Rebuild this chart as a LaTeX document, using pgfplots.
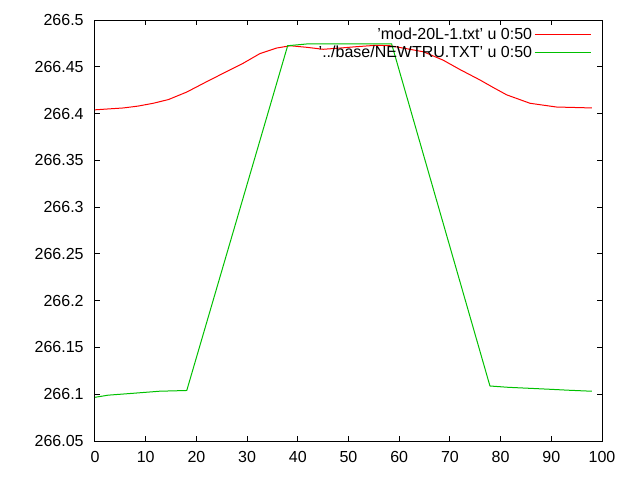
\documentclass[border=0pt]{standalone}
\usepackage{pgfplots}
\pgfplotsset{compat=1.18}
\usepackage{fontspec}
\setmainfont{Liberation Sans}
\definecolor{gred}{RGB}{255,0,0}
\definecolor{ggreen}{RGB}{0,192,0}
\begin{document}
\begin{tikzpicture}
\begin{axis}[
  scale only axis,
  width=380.25pt, height=315.75pt,
  at={(0,0)}, anchor=south west,
  xmin=0, xmax=100, ymin=266.05, ymax=266.5,
  xtick={0,10,...,100},
  ytick={266.05,266.1,266.15,266.2,266.25,266.3,266.35,266.4,266.45,266.5},
  yticklabels={266.05,266.1,266.15,266.2,266.25,266.3,266.35,266.4,266.45,266.5},
  tick align=inside,
  major tick length=3.5pt,
  axis line style={line width=0.75pt},
  every tick/.style={black, line width=0.75pt},
  tick label style={font=\fontsize{12}{13.5}\selectfont},
  yticklabel style={xshift=-5pt},
  xticklabel style={yshift=-4pt},
  /pgf/number format/assume math mode=true,
  legend cell align=right,
  legend plot pos=right,
  legend style={draw=none, fill=none, at={(0.983,0.99)}, anchor=north east,
    font=\fontsize{12}{13.5}\selectfont, row sep=0pt, inner sep=1pt,
    nodes={inner sep=1.5pt}},
  legend image code/.code={\path (0pt,0pt) -- (5pt,0pt); \draw[#1] (5pt,0pt) -- (42.5pt,0pt);},
]
\addplot[gred, line width=0.75pt] coordinates {
(0,266.404) (5.6,266.406) (8.5,266.408) (11.5,266.411) (14.5,266.415) (18.1,266.423)
(22,266.434) (26,266.445) (29.3,266.454) (32.5,266.464) (35.8,266.470) (38.5,266.4725)
(41.8,266.4708) (45,266.4687) (48.3,266.470) (51.6,266.4715) (55.5,266.473) (58.2,266.4725)
(62.1,266.4687) (64.8,266.466) (68.7,266.457) (72,266.447) (75.9,266.436) (78.5,266.428)
(81.2,266.420) (85.8,266.411) (91,266.407) (98,266.406)
};
\addlegendentry{'mod-20L-1.txt' u 0:50}
\addplot[ggreen, line width=0.75pt] coordinates {
(0,266.0967) (2.6,266.099) (7.5,266.101) (12.7,266.1032) (18.1,266.104)
(38,266.4725) (42,266.4745) (58.5,266.4745)
(77.9,266.1088) (81.5,266.1074) (85.8,266.1063) (89.7,266.1053) (93.7,266.1042) (98,266.1032)
};
\addlegendentry{'../base/NEWTRU.TXT' u 0:50}
\end{axis}
\pgfresetboundingbox
\path (-71.25pt,-29.25pt) rectangle (408.75pt,330.75pt);
\end{tikzpicture}
\end{document}
